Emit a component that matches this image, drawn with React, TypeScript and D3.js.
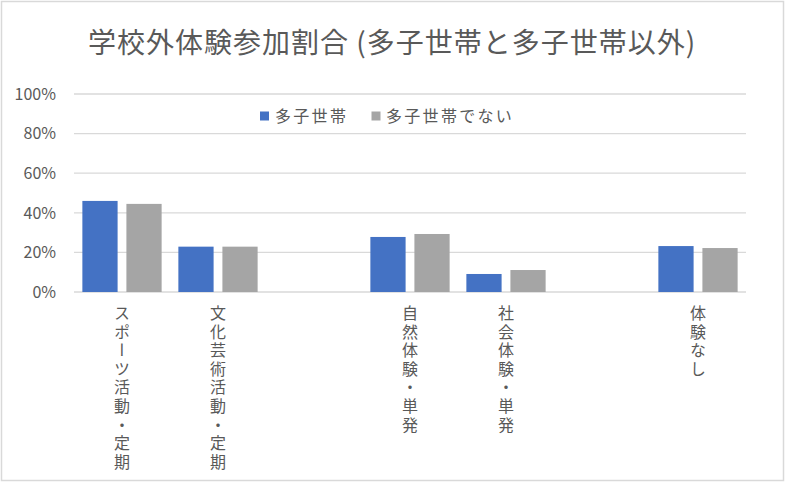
import React from "react";
import * as d3 from "d3";

const title = "学校外体験参加割合 (多子世帯と多子世帯以外)";
const categories = ["スポーツ活動・定期", "文化芸術活動・定期", "", "自然体験・単発", "社会体験・単発", "", "体験なし"];
const seriesNames = ["多子世帯", "多子世帯でない"];
const tanshi = [0.46, 0.229, null, 0.278, 0.091, null, 0.232];
const notTanshi = [0.445, 0.229, null, 0.293, 0.111, null, 0.222];
const yTicks = [0, 0.2, 0.4, 0.6, 0.8, 1.0];
const colors = ["#4472C4", "#A5A5A5"];

const W = 786;
const H = 483;
const FONT = "'Noto Sans CJK JP', 'Noto Sans', sans-serif";

export default function App() {
  const seriesValues = [tanshi, notTanshi];
  const x = d3
    .scaleBand<number>()
    .domain(categories.map((_, i) => i))
    .range([74, 746])
    .paddingInner(0)
    .paddingOuter(0);
  const xs = d3
    .scaleBand<number>()
    .domain([0, 1])
    .range([0, x.bandwidth()])
    .paddingInner(0.2)
    .paddingOuter(0.19);
  const y = d3.scaleLinear().domain([0, 1]).range([292, 94]);
  const fmt = d3.format(".0%");

  return (
    <svg
      width={W}
      height={H}
      style={{ position: "absolute", left: 0, top: 0, background: "#fff" }}
      fontFamily={FONT}
    >
      <rect x={0} y={0} width={W} height={H} fill="#fff" />
      <rect x={1.5} y={1.5} width={782} height={479} fill="none" stroke="#D9D9D9" strokeWidth={1.5} />
      <text x={392} y={53} textAnchor="middle" fontSize={28} fill="#595959" letterSpacing={1}>
        {title}
      </text>
      {yTicks.map((t) => (
        <g key={t}>
          <line x1={74} x2={746} y1={y(t)} y2={y(t)} stroke="#D9D9D9" strokeWidth={1.3} />
          <text x={56} y={y(t)} dy="0.36em" textAnchor="end" fontSize={16} fill="#595959">
            {fmt(t)}
          </text>
        </g>
      ))}
      {seriesValues.map((vals, s) =>
        vals.map((v, i) =>
          v == null ? null : (
            <rect
              key={`${s}-${i}`}
              x={(x(i) as number) + (xs(s) as number)}
              y={y(v)}
              width={xs.bandwidth()}
              height={y(0) - y(v)}
              fill={colors[s]}
            />
          )
        )
      )}
      {categories.map((c, i) =>
        c ? (
          <text
            key={i}
            x={(x(i) as number) + x.bandwidth() / 2}
            y={305}
            fontSize={16}
            fill="#595959"
            letterSpacing={2.6}
            style={{ writingMode: "vertical-rl", textOrientation: "upright" } as any}
          >
            {c}
          </text>
        ) : null
      )}
      <g>
        <rect x={260} y={111.5} width={9} height={9} fill={colors[0]} />
        <text x={275} y={116} dy="0.36em" fontSize={16} letterSpacing={2.3} fill="#595959">
          {seriesNames[0]}
        </text>
        <rect x={371.5} y={111.5} width={9} height={9} fill={colors[1]} />
        <text x={386} y={116} dy="0.36em" fontSize={16} letterSpacing={2.3} fill="#595959">
          {seriesNames[1]}
        </text>
      </g>
    </svg>
  );
}
